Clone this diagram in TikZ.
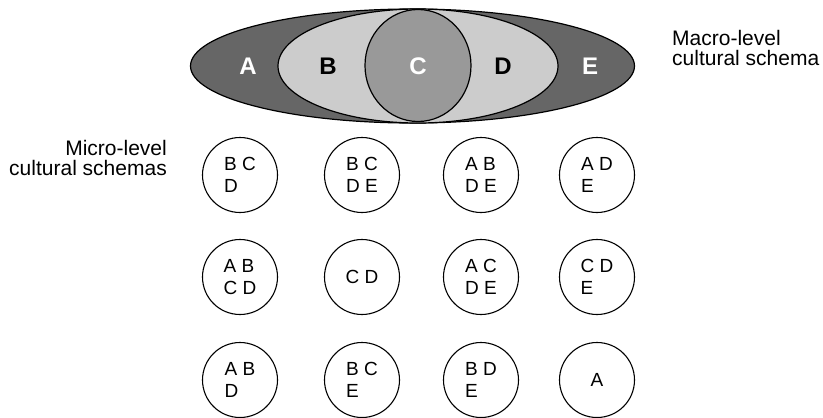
\documentclass[tikz,border=0pt]{standalone}
\usepackage{fontspec}
\setmainfont{Liberation Sans}
\usetikzlibrary{positioning}
\definecolor{outergray}{RGB}{102,102,102}
\definecolor{innergray}{RGB}{204,204,204}
\definecolor{coregray}{RGB}{153,153,153}
\tikzset{
  region/.style  = {draw=black, line width=1.2pt},
  letter/.style  = {font=\fontsize{24}{28}\selectfont\bfseries},
  caption/.style = {font=\fontsize{21}{20.5}\selectfont, inner sep=0pt},
  schema/.style  = {draw, circle, minimum size=75pt, inner sep=0pt, line width=1.1pt, align=left, font=\fontsize{19}{22}\selectfont},
}

\begin{document}
\begin{tikzpicture}[x=1pt,y=-1pt]
  \useasboundingbox (0,0) rectangle (823,418);
  % macro-level schema
  \draw[region, fill=outergray] (412.5,66) ellipse [x radius=222, y radius=57];
  \draw[region, fill=innergray] (418,66) ellipse [x radius=140, y radius=57];
  \draw[region, fill=coregray] (418,65.5) ellipse [x radius=53, y radius=56];
  \node[letter, text=white] (la) at (248,66) {A};
  \node[letter] (lb) at (328,66) {B};
  \node[letter, text=white] (lc) at (418,66) {C};
  \node[letter] (ld) at (503,66) {D};
  \node[letter, text=white] (le) at (590,66) {E};
  \node[caption, align=left, anchor=north west] (macro) at (672,30) {Macro-level\\cultural schema};
  % micro-level schemas
  \node[caption, align=right, anchor=north east] (micro) at (167,140) {Micro-level\\cultural schemas};
  \node[schema] (s11) at (240,175) {B C\\D};
  \node[schema] (s12) at (362,175) {B C\\D E};
  \node[schema] (s13) at (481,175) {A B\\D E};
  \node[schema] (s14) at (597,175) {A D\\E};
  \node[schema] (s21) at (240,277) {A B\\C D};
  \node[schema] (s22) at (362,277) {C D};
  \node[schema] (s23) at (481,277) {A C\\D E};
  \node[schema] (s24) at (597,277) {C D\\E};
  \node[schema] (s31) at (240,380) {A B\\D};
  \node[schema] (s32) at (362,380) {B C\\E};
  \node[schema] (s33) at (481,380) {B D\\E};
  \node[schema] (s34) at (597,380) {A};
\end{tikzpicture}
\end{document}
